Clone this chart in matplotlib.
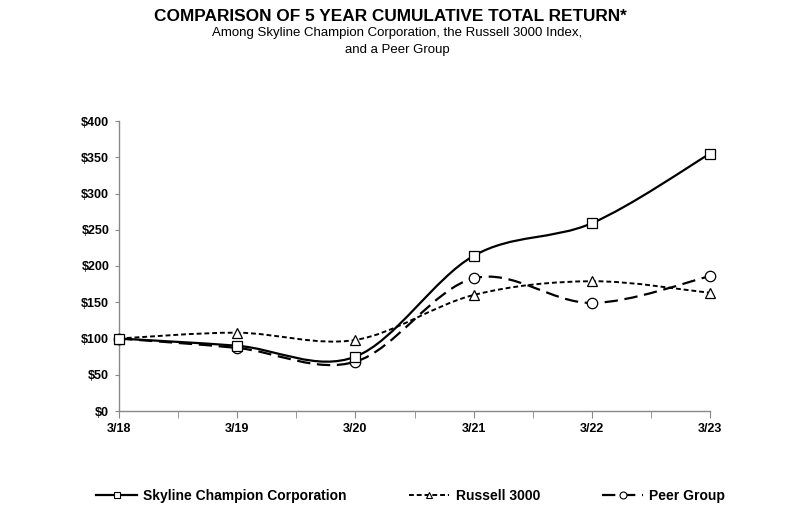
import matplotlib.pyplot as plt
import numpy as np
from matplotlib.path import Path
from matplotlib.patches import PathPatch
from matplotlib.lines import Line2D

plt.rcParams['font.family'] = ['Liberation Sans', 'DejaVu Sans']

years = ['3/18', '3/19', '3/20', '3/21', '3/22', '3/23']
skyline = [100, 90, 75, 214, 259, 355]
russell = [100, 108, 98, 160, 179, 163]
peer = [100, 87, 68, 183, 149, 186]


def smooth_path(xs, ys):
    # Excel-style smoothed line: Bezier through the points
    pts = np.column_stack([xs, ys]).astype(float)
    n = len(pts)
    verts = [pts[0]]
    codes = [Path.MOVETO]
    for i in range(n - 1):
        p0 = pts[max(i - 1, 0)]
        p1 = pts[i]
        p2 = pts[i + 1]
        p3 = pts[min(i + 2, n - 1)]
        c1 = p1 + (p2 - p0) / 6.0
        c2 = p2 - (p3 - p1) / 6.0
        verts += [c1, c2, p2]
        codes += [Path.CURVE4] * 3
    return Path(verts, codes)


fig = plt.figure(figsize=(8.02, 5.18), dpi=100)
ax = fig.add_axes([119 / 802, 1 - 411 / 518, (710 - 119) / 802, (411 - 121) / 518])

x = np.arange(len(years))
series = [
    ('Skyline Champion Corporation', skyline, 's', '-', 1.6),
    ('Russell 3000', russell, '^', (0, (2.5, 1.5)), 1.4),
    ('Peer Group', peer, 'o', (0, (6, 3)), 1.6),
]

handles = []
for k, (name, vals, mk, ls, lw) in enumerate(series):
    patch = PathPatch(smooth_path(x, vals), facecolor='none', edgecolor='black',
                      lw=lw, linestyle=ls, zorder=2, clip_on=False)
    ax.add_patch(patch)
    ax.plot(x, vals, linestyle='none', marker=mk, markersize=7.5,
            markerfacecolor='white', markeredgecolor='black', markeredgewidth=0.9,
            zorder=5 - k, clip_on=False)
    handles.append(Line2D([], [], color='black', lw=lw, linestyle=ls, marker=mk,
                          markersize=5, markerfacecolor='white',
                          markeredgecolor='black', markeredgewidth=0.8, label=name))

ax.set_xlim(0, 5)
ax.set_ylim(0, 400)
ax.set_xticks(x)
ax.set_xticklabels(years)
ax.set_xticks(np.arange(0.5, 5, 1), minor=True)
ax.set_yticks(np.arange(0, 401, 50))
ax.set_yticklabels(['$%d' % v for v in range(0, 401, 50)])

for s in ['top', 'right']:
    ax.spines[s].set_visible(False)
for s in ['left', 'bottom']:
    ax.spines[s].set_color('#888888')
    ax.spines[s].set_linewidth(1.0)

ax.tick_params(axis='both', which='both', color='#888888', direction='out')
ax.tick_params(axis='x', which='major', length=5, pad=4, labelsize=9)
ax.tick_params(axis='x', which='minor', length=5)
ax.tick_params(axis='y', length=3, pad=4, labelsize=9)
for lab in ax.get_xticklabels() + ax.get_yticklabels():
    lab.set_fontweight('bold')

fig.text(0.487, 0.969, 'COMPARISON OF 5 YEAR CUMULATIVE TOTAL RETURN*',
         ha='center', va='center', fontsize=12.4, fontweight='bold')
fig.text(0.495, 0.936, 'Among Skyline Champion Corporation, the Russell 3000 Index,',
         ha='center', va='center', fontsize=9.5)
fig.text(0.495, 0.903, 'and a Peer Group', ha='center', va='center', fontsize=9.5)

fig.legend(handles=handles, loc='center', bbox_to_anchor=(0.512, 1 - 496 / 518), ncol=3,
           frameon=False, prop={'weight': 'bold', 'size': 10}, handlelength=2.9,
           handletextpad=0.45, columnspacing=4.5)

fig.savefig('out.png', dpi=100)
